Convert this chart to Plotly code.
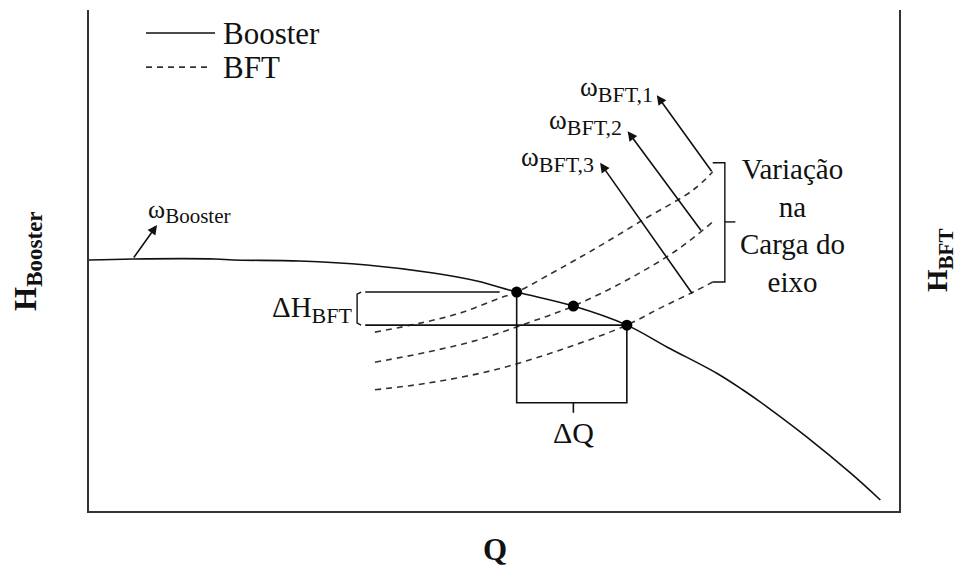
import plotly.graph_objects as go

# Booster pump curve (Q, H in arbitrary units 0-100)
q_booster = [0, 5.4, 15.6, 17.8, 26.0, 34.3, 42.5, 47.9, 52.8, 59.8, 66.4, 71.4, 77.5, 80.7, 83.7, 88.6, 94.0, 97.7]
h_booster = [50.1, 50.3, 50.3, 50.1, 49.9, 49.1, 47.5, 45.9, 43.7, 40.9, 37.1, 32.7, 27.5, 24.2, 20.8, 14.8, 7.6, 2.2]

# BFT curves for three speeds
q_bft1 = [35.3, 40.9, 45.8, 50.7, 52.8, 56.5, 62.2, 68.4, 74.6, 77.0]
h_bft1 = [35.7, 37.5, 39.5, 42.5, 43.7, 46.9, 52.1, 58.1, 64.1, 67.7]
q_bft2 = [35.3, 41.7, 47.9, 54.1, 59.8, 66.4, 72.6, 77.0]
h_bft2 = [29.7, 31.7, 34.1, 37.5, 40.9, 46.1, 52.1, 57.7]
q_bft3 = [35.3, 41.7, 49.9, 58.1, 66.4, 70.5, 74.6, 77.0]
h_bft3 = [24.2, 25.5, 28.1, 32.1, 37.1, 40.5, 43.7, 45.7]

# operating points (intersections)
q_op = [52.8, 59.8, 66.4]
h_op = [43.7, 40.9, 37.1]

# speed arrows: tail (q, h) -> tip (q, h)
arrow_tail = [(77.0, 67.5), (75.7, 55.7), (74.6, 43.1)]
arrow_tip = [(70.1, 83.0), (66.5, 75.8), (63.1, 69.5)]
arrow_subs = ["BFT,1", "BFT,2", "BFT,3"]
label_pos = [(69.9, 84.2), (66.0, 77.6), (62.6, 70.2)]

SERIF = "Liberation Serif"
INK = "#111"


def sub(base, s, px):
    return base + "<sub><span style='font-size:%dpx'>%s</span></sub>" % (px, s)


fig = go.Figure()

fig.add_trace(go.Scatter(x=q_booster, y=h_booster, mode="lines", line=dict(color=INK, width=1.6, shape="spline"),
                         name="Booster", hoverinfo="skip"))
for q, h in [(q_bft1, h_bft1), (q_bft2, h_bft2), (q_bft3, h_bft3)]:
    fig.add_trace(go.Scatter(x=q, y=h, mode="lines", name="BFT", hoverinfo="skip",
                             line=dict(color="#333", width=1.6, dash="6px,5px", shape="spline")))

# guide lines (delta H and delta Q)
q_dh = 34.1
fig.add_trace(go.Scatter(x=[q_dh, 50.7, None, q_dh, q_op[2]], y=[h_op[0], h_op[0], None, h_op[2], h_op[2]],
                         mode="lines", line=dict(color=INK, width=1.6), hoverinfo="skip"))
h_dq = 21.6
fig.add_trace(go.Scatter(x=[q_op[0], q_op[0], q_op[2], q_op[2], None, q_op[1], q_op[1]],
                         y=[h_op[0], h_dq, h_dq, h_op[2], None, h_dq, h_dq - 2.0],
                         mode="lines", line=dict(color=INK, width=1.6), hoverinfo="skip"))
# [ bracket for delta H
fig.add_trace(go.Scatter(x=[q_dh - 0.5, q_dh - 1.0, q_dh - 1.0, q_dh - 0.5],
                         y=[h_op[0], h_op[0] - 0.4, h_op[2] + 0.4, h_op[2]],
                         mode="lines", line=dict(color=INK, width=1.4), hoverinfo="skip"))
# } bracket for load variation
fig.add_trace(go.Scatter(x=[77.0, 78.5, 78.5, 77.0, None, 78.5, 79.8],
                         y=[69.5, 69.5, 45.7, 45.7, None, 57.7, 57.7],
                         mode="lines", line=dict(color=INK, width=1.4), hoverinfo="skip"))

fig.add_trace(go.Scatter(x=q_op, y=h_op, mode="markers", marker=dict(color="black", size=11), hoverinfo="skip"))

for (tq, th), (hq, hh) in zip(arrow_tail, arrow_tip):
    fig.add_annotation(x=hq, y=hh, ax=tq, ay=th, xref="x", yref="y", axref="x", ayref="y", text="",
                       showarrow=True, arrowhead=2, arrowsize=1.2, arrowwidth=1.6, arrowcolor=INK)
for s, (lq, lh) in zip(arrow_subs, label_pos):
    fig.add_annotation(x=lq, y=lh, text=sub("ω", s, 22), showarrow=False, xanchor="right", yanchor="middle",
                       font=dict(family=SERIF, size=27, color=INK))

# omega booster
fig.add_annotation(x=8.4, y=57.1, ax=5.4, ay=50.3, xref="x", yref="y", axref="x", ayref="y", text="",
                   showarrow=True, arrowhead=2, arrowsize=1.2, arrowwidth=1.6, arrowcolor=INK)
fig.add_annotation(x=7.0, y=59.8, text=sub("ω", "Booster", 21), showarrow=False, xanchor="left",
                   yanchor="middle", font=dict(family=SERIF, size=26, color=INK))

fig.add_annotation(x=32.9, y=40.2, text=sub("ΔH", "BFT", 22), showarrow=False, xanchor="right",
                   yanchor="middle", font=dict(family=SERIF, size=29, color=INK))
fig.add_annotation(x=q_op[1], y=15.6, text="ΔQ", showarrow=False, xanchor="center", yanchor="middle",
                   font=dict(family=SERIF, size=30, color=INK))
fig.add_annotation(x=86.8, y=57.0, text="Variação<br>na<br>Carga do<br>eixo", showarrow=False,
                   xanchor="center", yanchor="middle", font=dict(family=SERIF, size=29, color=INK))

# axis titles
fig.add_annotation(x=0.501, y=-0.076, xref="paper", yref="paper", text="<b>Q</b>", showarrow=False,
                   xanchor="center", yanchor="middle", font=dict(family=SERIF, size=31, color=INK))
fig.add_annotation(x=-0.076, y=0.50, xref="paper", yref="paper", text="<b>" + sub("H", "Booster", 23) + "</b>",
                   xanchor="center", yanchor="middle",
                   showarrow=False, textangle=-90, font=dict(family=SERIF, size=31, color=INK))
fig.add_annotation(x=1.050, y=0.50, xref="paper", yref="paper", text="<b>" + sub("H", "BFT", 21) + "</b>",
                   xanchor="center", yanchor="middle",
                   showarrow=False, textangle=-90, font=dict(family=SERIF, size=29, color=INK))

# legend drawn by hand
fig.add_shape(type="line", xref="paper", yref="paper", x0=0.0704, x1=0.1556, y0=0.954, y1=0.954,
              line=dict(color=INK, width=1.6))
fig.add_shape(type="line", xref="paper", yref="paper", x0=0.0704, x1=0.1506, y0=0.886, y1=0.886,
              line=dict(color="#333", width=1.6, dash="6px,5px"))
fig.add_annotation(x=0.163, y=0.954, xref="paper", yref="paper", text="Booster", showarrow=False,
                   xanchor="left", yanchor="middle", font=dict(family=SERIF, size=31, color=INK))
fig.add_annotation(x=0.163, y=0.886, xref="paper", yref="paper", text="BFT", showarrow=False,
                   xanchor="left", yanchor="middle", font=dict(family=SERIF, size=31, color=INK))

# page body adds an 8px offset, so margins are shifted to keep the box in place
fig.update_layout(
    width=962, height=568,
    margin=dict(l=81, r=71, t=2, b=65),
    plot_bgcolor="white", paper_bgcolor="white",
    showlegend=False,
    xaxis=dict(range=[0, 100], showgrid=False, zeroline=False, showticklabels=False, ticks="",
               showline=True, linecolor="#333", linewidth=2, mirror=False),
    yaxis=dict(range=[0, 100], showgrid=False, zeroline=False, showticklabels=False, ticks="",
               showline=True, linecolor="#333", linewidth=2, mirror=True),
)

fig.write_html("out.html", config={"displayModeBar": False})
